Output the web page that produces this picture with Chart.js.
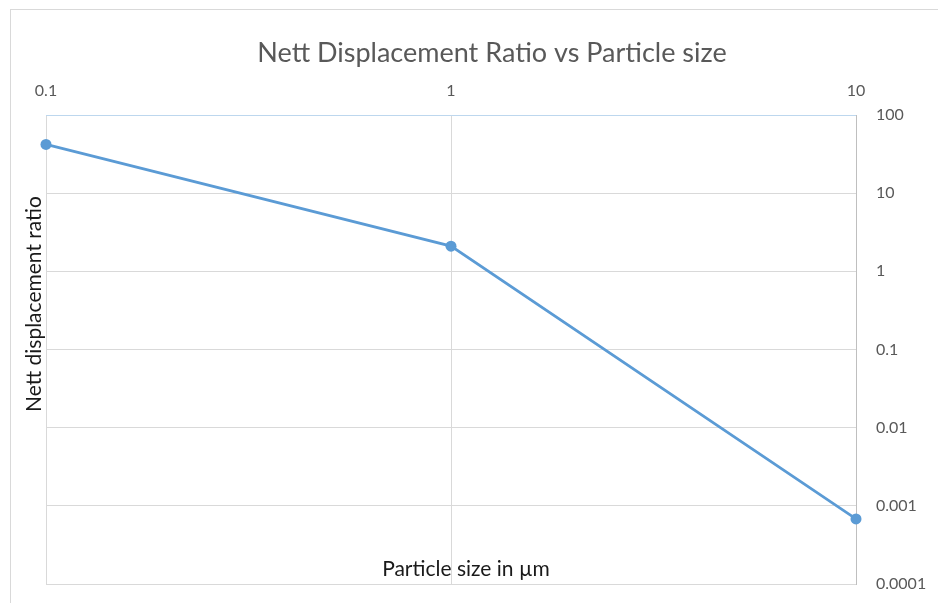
<!DOCTYPE html>
<html>
<head>
<meta charset="utf-8">
<script src="https://cdn.jsdelivr.net/npm/chart.js@4"></script>
<style>
  html, body { margin: 0; padding: 0; background: #fff; overflow: hidden; }
  .frame { position: absolute; left: 10px; top: 9px; width: 1000px; height: 700px; border-top: 1px solid #d9d9d9; border-left: 1px solid #d9d9d9; }
  .chart-box { position: absolute; left: 0; top: 0; width: 938px; height: 603px; }
</style>
</head>
<body>
<div class="frame"></div>
<div class="chart-box"><canvas id="ratioChart"></canvas></div>
<script>
// particle size (µm) and nett displacement ratio
const particleSizes = [0.1, 1, 10];
const displacementRatios = [42, 2.1, 0.00068];
const xTicks = [0.1, 1, 10];
const yTicks = [0.0001, 0.001, 0.01, 0.1, 1, 10, 100];

const chartTitle = 'Nett Displacement Ratio vs Particle size';
const xTitle = 'Particle size in µm';
const yTitle = 'Nett displacement ratio';

const FONT = 'Lato, "Open Sans", sans-serif';
const tickLabel = v => String(v);

// axis titles sit where the original puts them (y title left of plot, x title inside plot)
const axisTitles = {
    id: 'axisTitles',
    afterDraw(chart) {
        const { ctx, chartArea } = chart;
        ctx.save();
        ctx.fillStyle = '#1a1a1a';
        ctx.font = '21px ' + FONT;
        ctx.textAlign = 'center';
        ctx.textBaseline = 'middle';
        ctx.fillText(xTitle, (chartArea.left + chartArea.right) / 2 + 15, chartArea.bottom - 15);
        ctx.translate(chartArea.left - 12, chartArea.top + 189);
        ctx.rotate(-Math.PI / 2);
        ctx.fillText(yTitle, 0, 0);
        ctx.restore();
    }
};

new Chart(document.getElementById('ratioChart'), {
    type: 'line',
    data: {
        datasets: [{
            data: particleSizes.map((x, i) => ({ x, y: displacementRatios[i] })),
            borderColor: '#5b9bd5',
            backgroundColor: '#5b9bd5',
            borderWidth: 2.75,
            pointRadius: 5.5,
            pointBorderWidth: 0,
            tension: 0,
            clip: false
        }]
    },
    options: {
        responsive: true,
        maintainAspectRatio: false,
        animation: false,
        layout: { padding: { left: 46, right: 0, top: 0, bottom: 19 } },
        plugins: {
            legend: { display: false },
            tooltip: { enabled: false },
            title: {
                display: true,
                text: chartTitle,
                color: '#595959',
                font: { family: FONT, size: 27, weight: 'normal' },
                padding: { top: 37, bottom: 8 }
            }
        },
        scales: {
            x: {
                type: 'logarithmic',
                position: 'top',
                min: 0.1,
                max: 10,
                afterBuildTicks: s => { s.ticks = xTicks.map(value => ({ value })); },
                afterFit: s => { s.height = 37.6; },
                grid: { color: '#d9d9d9', drawTicks: false },
                border: { color: '#bdd7ee' },
                ticks: {
                    color: '#595959',
                    font: { family: FONT, size: 16 },
                    padding: 15,
                    maxRotation: 0,
                    callback: tickLabel
                }
            },
            y: {
                type: 'logarithmic',
                position: 'right',
                min: 0.0001,
                max: 100,
                afterBuildTicks: s => { s.ticks = yTicks.map(value => ({ value })); },
                afterFit: s => {
                    s.width = 82;
                    // tick padding is horizontal here, don't let it shrink the plot vertically
                    s.paddingTop = 0;
                    s.paddingBottom = 0;
                },
                grid: { color: '#d9d9d9', drawTicks: false },
                border: { color: '#bfbfbf' },
                ticks: {
                    color: '#595959',
                    font: { family: FONT, size: 16 },
                    padding: 20,
                    callback: tickLabel
                }
            }
        }
    },
    plugins: [axisTitles]
});
</script>
</body>
</html>
